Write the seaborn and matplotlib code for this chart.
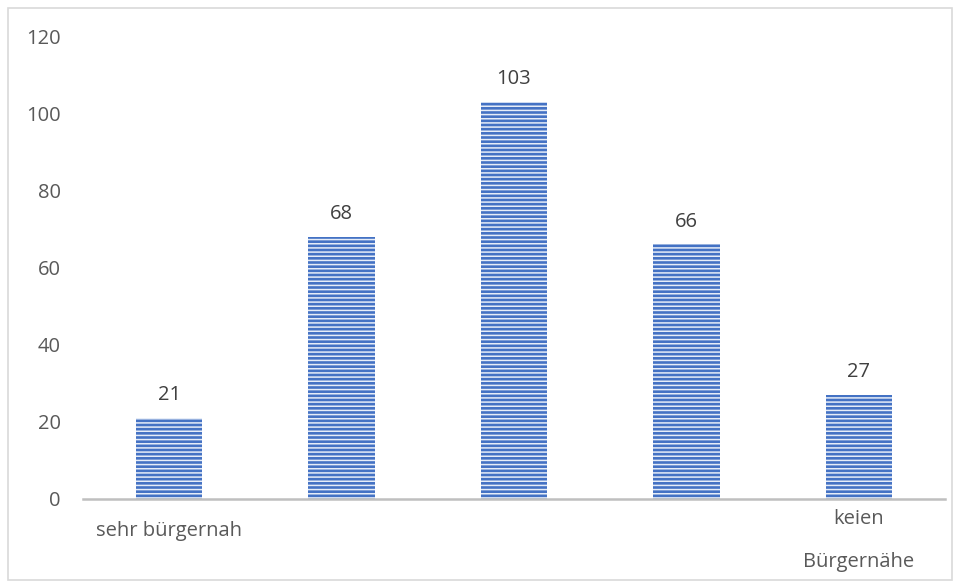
import matplotlib
matplotlib.use("Agg")
import matplotlib.pyplot as plt
import matplotlib.transforms as mtransforms
import seaborn as sns
import pandas as pd
from matplotlib.patches import Rectangle

categories = ["c1", "c2", "c3", "c4", "c5"]
values = [21, 68, 103, 66, 27]
tick_labels = ["sehr bürgernah", "", "", "", "keien\nBürgernähe"]
y_ticks = [0, 20, 40, 60, 80, 100, 120]

sns.set_theme(style="white")
plt.rcParams["font.family"] = ["Open Sans", "DejaVu Sans"]
plt.rcParams["hatch.linewidth"] = 1.1

df = pd.DataFrame({"cat": categories, "val": values})

fig = plt.figure(figsize=(9.6, 5.88), dpi=100)
ax = fig.add_axes([83/960, 1-499/588, (945-83)/960, (499-36)/588])

sns.barplot(data=df, x="cat", y="val", ax=ax, color="#4472C4", width=0.385,
            saturation=1)
for p in ax.patches:
    p.set_hatch("----")
    p.set_edgecolor("#E6EDF8")
    p.set_linewidth(0)

txt = "#595959"
fs = 14.5
ax.set_xlim(-0.5, 4.5)
ax.set_ylim(0, 120)
ax.set_yticks(y_ticks)
ax.set_yticklabels([str(t) for t in y_ticks], color=txt, fontsize=fs)
ax.set_xticks(range(len(categories)))
ax.set_xticklabels(tick_labels, color=txt, fontsize=fs, linespacing=2.55)
ax.tick_params(axis="x", length=0, pad=16)
ax.tick_params(axis="y", length=0, pad=16)
ax.set_xlabel("")
ax.set_ylabel("")
for s in ["top", "right", "left"]:
    ax.spines[s].set_visible(False)
ax.spines["bottom"].set_color("#BFBFBF")
ax.spines["bottom"].set_linewidth(1.8)

# multi-line labels are shifted up a little, as in the reference
for lab in ax.get_xticklabels():
    if "\n" in lab.get_text():
        lab.set_transform(lab.get_transform() +
                          mtransforms.ScaledTranslation(0, 12/100, fig.dpi_scale_trans))

for i, v in enumerate(values):
    ax.annotate(str(v), (i, v), xytext=(0, 9), textcoords="offset points",
                ha="center", va="bottom", color="#404040", fontsize=fs)

fig.patches.append(Rectangle((8/960, 8/588), 944/960, 572/588, transform=fig.transFigure,
                             fill=False, edgecolor="#D9D9D9", linewidth=1.2))

fig.savefig("out.png", dpi=100)
